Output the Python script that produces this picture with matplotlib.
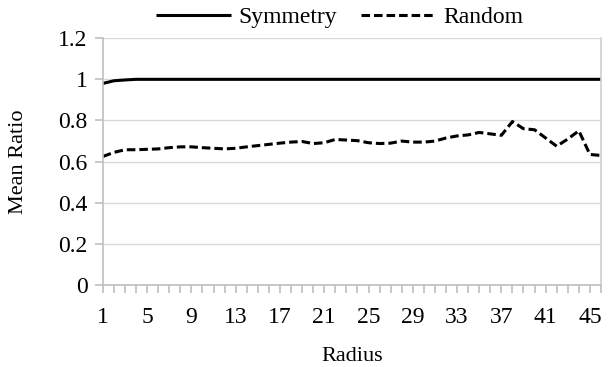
import numpy as np
import matplotlib
matplotlib.use("Agg")
import matplotlib.pyplot as plt

# data
radius = list(range(1, 47))
symmetry = [0.980, 0.993, 0.997] + [1.0] * 43
random_ratio = [0.625, 0.645, 0.658, 0.658, 0.660, 0.662, 0.668, 0.672, 0.672, 0.668,
                0.665, 0.662, 0.665, 0.672, 0.678, 0.684, 0.690, 0.695, 0.698, 0.688,
                0.692, 0.708, 0.705, 0.702, 0.692, 0.688, 0.690, 0.700, 0.695, 0.695,
                0.700, 0.715, 0.725, 0.730, 0.742, 0.735, 0.728, 0.795, 0.760, 0.755,
                0.715, 0.675, 0.710, 0.750, 0.635, 0.630]
yticks = [0, 0.2, 0.4, 0.6, 0.8, 1, 1.2]
ylabels = ["0", "0.2", "0.4", "0.6", "0.8", "1", "1.2"]
xlabel_every = 4

plt.rcParams['font.family'] = ['Liberation Serif', 'DejaVu Serif']
plt.rcParams['font.size'] = 17

grey = "#bfbfbf"

fig = plt.figure(figsize=(6.12, 3.67), dpi=100)
ax = fig.add_axes([0.168, 0.223, 0.814, 0.673])

l1, = ax.plot(radius, symmetry, color="black", lw=2.2, solid_capstyle="butt", label="Symmetry")
l2, = ax.plot(radius, random_ratio, color="black", lw=2.2, dashes=(2.8, 1.3), label="Random")

ax.set_xlim(radius[0], radius[-1])
ax.set_ylim(0, 1.2)
ax.set_yticks(yticks)
ax.set_yticklabels(ylabels)
ax.set_xticks(radius, minor=True)
ax.set_xticks(radius[::xlabel_every])
ax.set_xticklabels([str(r) for r in radius[::xlabel_every]])
ax.yaxis.grid(True, color="#d9d9d9", lw=1)
ax.set_axisbelow(True)

for s in ax.spines.values():
    s.set_color(grey)
    s.set_linewidth(1.2)
ax.spines['top'].set_visible(False)
ax.spines['right'].set_color("#d0d0d0")

ax.tick_params(axis="y", direction="out", length=6, color=grey, width=1.2, pad=5)
ax.tick_params(axis="x", which="both", direction="out", length=6, color=grey, width=1.2, pad=10)
ax.tick_params(axis="x", which="minor", labelbottom=False)

ax.set_xlabel("Radius", fontsize=16)
ax.set_ylabel("Mean Ratio", fontsize=16)
ax.xaxis.set_label_coords(0.5, -0.25)
ax.yaxis.set_label_coords(-0.15, 0.5)

fig.legend(handles=[l1, l2], loc="center", bbox_to_anchor=(0.555, 0.952), ncol=2,
           frameon=False, handlelength=3.2, columnspacing=1.0, handletextpad=0.3,
           borderaxespad=0)

fig.savefig("out.png", dpi=100)
